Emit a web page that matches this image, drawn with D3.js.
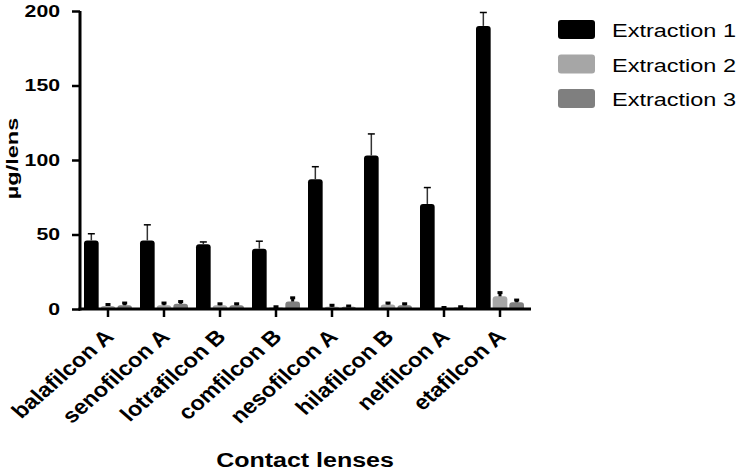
<!DOCTYPE html>
<html><head><meta charset="utf-8">
<script src="https://cdn.jsdelivr.net/npm/d3@7"></script>
<style>body{margin:0;background:#fff}svg{display:block}text{font-family:"Liberation Sans",Arial,sans-serif}</style>
</head><body>
<svg id="c" width="739" height="470"></svg>
<script>
const categories = ["balafilcon A","senofilcon A","lotrafilcon B","comfilcon B","nesofilcon A","hilafilcon B","nelfilcon A","etafilcon A"];
const seriesNames = ["Extraction 1","Extraction 2","Extraction 3"];
const extraction1 = [46, 46, 43.5, 40.5, 87, 103, 70.5, 190];
const error1 = [4.5, 10.5, 1.5, 5, 8.5, 14.5, 11, 9];
const extraction2 = [2, 2.5, 2.5, 1, 1.5, 3, 0.5, 8.5];
const error2 = [1, 1.5, 1, 0.5, 1, 1, 0.5, 2.5];
const extraction3 = [2.5, 3.5, 2.5, 5, 1.5, 2.5, 1, 4.5];
const error3 = [1.5, 1.5, 1, 2.5, 0.5, 1, 0.5, 1.5];
const yTicks = [0, 50, 100, 150, 200];
const colors = ["#000000", "#a6a6a6", "#7f7f7f"];

const SX = 1.25;
const SXL = 1.15;
const svg = d3.select("#c");
const x = d3.scaleBand().domain(categories).range([80, 528]);
const xi = d3.scaleBand().domain(seriesNames).range([-24, 24]).paddingInner(0.12);
const y = d3.scaleLinear().domain([0, 200]).range([309, 11]);

const values = [extraction1, extraction2, extraction3];
const errors = [error1, error2, error3];
const data = [];
seriesNames.forEach((s, si) => categories.forEach((c, ci) => data.push({s, si, c, v: values[si][ci], e: errors[si][ci]})));

function barPath(x0, w, yTop, yBase) {
  const h = yBase - yTop;
  const r = Math.min(3, h, w / 2);
  return `M${x0},${yBase}V${yTop + r}Q${x0},${yTop} ${x0 + r},${yTop}H${x0 + w - r}Q${x0 + w},${yTop} ${x0 + w},${yTop + r}V${yBase}Z`;
}

const g = svg.append("g");
g.selectAll("path.bar").data(data).join("path").attr("class", "bar")
  .attr("d", d => barPath(x(d.c) + x.bandwidth() / 2 + xi(d.s), xi.bandwidth(), y(d.v), y(0)))
  .attr("fill", d => colors[d.si]);

const eb = g.selectAll("g.err").data(data).join("g").attr("class", "err")
  .attr("transform", d => `translate(${x(d.c) + x.bandwidth() / 2 + xi(d.s) + xi.bandwidth() / 2},0)`);
eb.append("line").attr("x1", 0).attr("x2", 0).attr("y1", d => y(d.v)).attr("y2", d => y(d.v + d.e))
  .attr("stroke", d => d.si === 0 ? "#333" : "#000").attr("stroke-width", d => d.si === 0 ? 1.5 : 3);
eb.append("line").attr("x1", d => d.si === 0 ? -3.5 : -2.5).attr("x2", d => d.si === 0 ? 3.5 : 2.5)
  .attr("y1", d => y(d.v + d.e)).attr("y2", d => y(d.v + d.e))
  .attr("stroke", "#000").attr("stroke-width", d => d.si === 0 ? 1.5 : 3);

// axes
const yAxis = svg.append("g").attr("transform", "translate(80,0)")
  .call(d3.axisLeft(y).tickValues(yTicks).tickSize(8).tickPadding(12).tickSizeOuter(0));
yAxis.select(".domain").attr("stroke", "#000").attr("stroke-width", 3).attr("d", `M0,${y(0) + 1.5}V${y(200)}`);
yAxis.selectAll(".tick line").attr("stroke", "#000").attr("stroke-width", 2.5);
yAxis.selectAll(".tick text").attr("font-size", 17).attr("font-weight", "bold").attr("fill", "#000")
  .attr("font-family", "Liberation Sans, Arial, sans-serif")
  .attr("transform", `translate(-20,0) scale(${SX},1) translate(20,0)`);

const xAxis = svg.append("g").attr("transform", `translate(0,${y(0)})`)
  .call(d3.axisBottom(x).tickSize(8).tickSizeOuter(0).tickFormat(""));
xAxis.select(".domain").attr("stroke", "#000").attr("stroke-width", 3).attr("d", "M78.5,0H531");
xAxis.selectAll(".tick line").attr("stroke", "#000").attr("stroke-width", 2.5);
xAxis.selectAll(".tick").append("text")
  .attr("fill", "#000").attr("font-size", 20.5).attr("font-weight", "bold")
  .attr("text-anchor", "end")
  .attr("transform", `translate(7,29) scale(${SXL},1) rotate(-45)`)
  .text(d => d);

// axis titles
svg.append("text").attr("transform", `translate(18,158.5) scale(0.72,1) rotate(-90)`)
  .attr("text-anchor", "middle").attr("font-size", 23.5).attr("font-weight", "bold").text("µg/lens");
svg.append("text").attr("transform", `translate(305,467) scale(${SX},1)`)
  .attr("text-anchor", "middle").attr("font-size", 20).attr("font-weight", "bold").text("Contact lenses");

// legend
const lg = svg.append("g").selectAll("g").data(seriesNames).join("g")
  .attr("transform", (d, i) => `translate(558,${20 + i * 34.5})`);
lg.append("rect").attr("width", 37).attr("height", 19).attr("rx", 3).attr("fill", (d, i) => colors[i]);
lg.append("text").attr("transform", `translate(54,17) scale(1.27,1)`).attr("font-size", 18.5).attr("fill", "#000").text(d => d);
</script>
</body></html>
